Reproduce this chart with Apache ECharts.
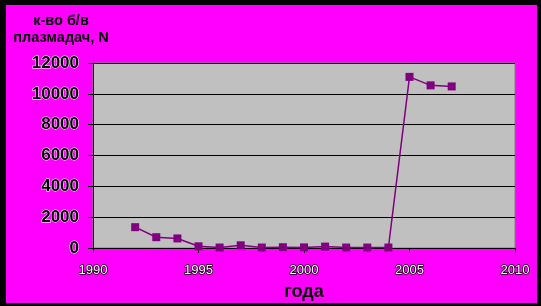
<!DOCTYPE html>
<html>
<head>
<meta charset="utf-8">
<script src="https://cdn.jsdelivr.net/npm/echarts@6/dist/echarts.min.js"></script>
<style>
html,body{margin:0;padding:0;background:#000;}
#outer{position:relative;width:541px;height:306px;background:#000;overflow:hidden;}
#chart{position:absolute;left:6px;top:5px;width:531px;height:298px;}
</style>
</head>
<body>
<div id="outer"><div id="chart"></div></div>
<script>
var years = [1992,1993,1994,1995,1996,1997,1998,1999,2000,2001,2002,2003,2004,2005,2006,2007];
var values = [1350,700,620,110,30,175,30,50,40,90,30,30,30,11100,10550,10480];
var yTitle = 'к-во б/в\nплазмадач, N';
var xTitle = 'года';

var chart = echarts.init(document.getElementById('chart'), null, {renderer:'canvas'});
chart.setOption({
  backgroundColor: '#FF00FF',
  animation: false,
  title: {
    text: yTitle,
    left: 50, top: 2,
    textAlign: 'center',
    textStyle: {fontFamily:'Liberation Sans, Arial', fontWeight:'bold', fontSize:14.5, lineHeight:17, color:'#000'}
  },
  grid: {
    left: 87, top: 58, right: 22, bottom: 55,
    outerBoundsMode: 'none', containLabel: false,
    show: true, backgroundColor: '#C0C0C0', borderColor: '#808080', borderWidth: 1
  },
  xAxis: {
    type: 'value', min: 1990, max: 2010, interval: 5,
    name: xTitle, nameLocation: 'middle', nameGap: 27,
    nameTextStyle: {fontFamily:'Liberation Sans, Arial', fontWeight:'bold', fontSize:18, color:'#000'},
    axisLine: {show:true, onZero:false, lineStyle:{color:'#000', width:1}},
    axisTick: {show:true, length:5, inside:false, lineStyle:{color:'#000'}},
    splitLine: {show:false},
    axisLabel: {margin: 16, formatter: function(v){return String(v);}, fontFamily:'Liberation Sans, Arial', fontSize:13, color:'#fff', textBorderColor:'#000', textBorderWidth:1.5}
  },
  yAxis: {
    type: 'value', min: 0, max: 12000, interval: 2000,
    axisLine: {show:true, lineStyle:{color:'#000', width:1}},
    axisTick: {show:true, length:5, inside:false, lineStyle:{color:'#000'}},
    splitLine: {show:true, lineStyle:{color:'#000', width:1}},
    axisLabel: {margin: 14, formatter: function(v){return String(v);}, fontFamily:'Liberation Sans, Arial', fontWeight:'bold', fontSize:17, color:'#000', textBorderColor:'#fff', textBorderWidth:1}
  },
  series: [{
    type: 'line',
    data: years.map(function(y,i){return [y, values[i]];}),
    symbol: 'rect', symbolSize: 8,
    lineStyle: {color:'#800080', width:1.5},
    itemStyle: {color:'#800080'}
  }]
});
</script>
</body>
</html>
